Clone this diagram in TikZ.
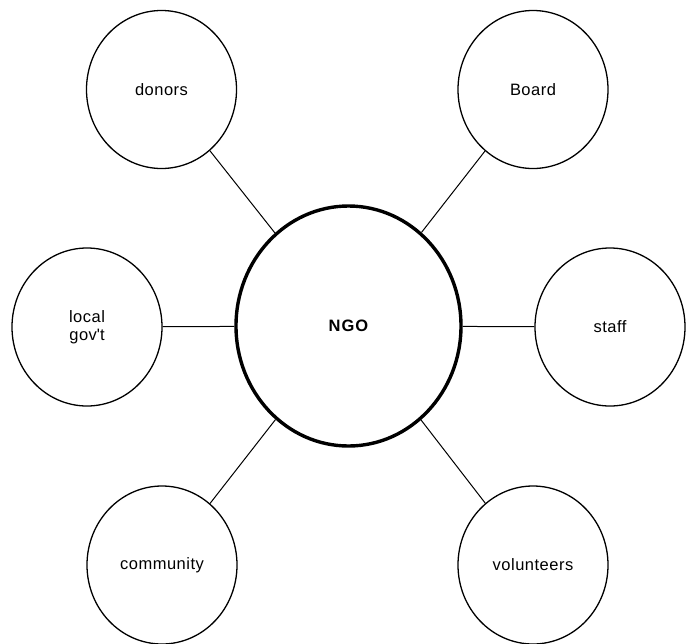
\documentclass[tikz,border=0pt]{standalone}
\usepackage{fontspec}
\setmainfont{Liberation Sans}[LetterSpace=3]
\usetikzlibrary{shapes.geometric}
\begin{document}
\begin{tikzpicture}[x=1pt,y=1pt,
  outer/.style={ellipse,draw,line width=1.3pt,minimum width=150pt,minimum height=158pt,inner sep=0pt,align=center,font=\fontsize{16.5}{18}\selectfont},
  hub/.style={ellipse,draw,line width=3.4pt,minimum width=225pt,minimum height=240pt,inner sep=0pt,font=\fontsize{16.5}{18}\selectfont\bfseries},
  link/.style={line width=1pt}]
\useasboundingbox (0,0) rectangle (690,-643);
\node[hub] (ngo) at (348.5,-326) {N\kern1ptG\kern1ptO};
\node[outer] (donors) at (161.5,-89.5) {donors};
\node[outer] (board) at (533,-89.5) {Board};
\node[outer] (gov) at (87,-327) {local\\gov\textquotesingle t};
\node[outer] (staff) at (610,-327) {staff};
\node[outer] (community) at (162,-565) {community};
\node[outer] (volunteers) at (533,-565) {volunteers};
\draw[link] (donors) -- (ngo);
\draw[link] (board) -- (ngo);
\draw[link] (gov) -- (ngo);
\draw[link] (staff) -- (ngo);
\draw[link] (community) -- (ngo);
\draw[link] (volunteers) -- (ngo);
\end{tikzpicture}
\end{document}
